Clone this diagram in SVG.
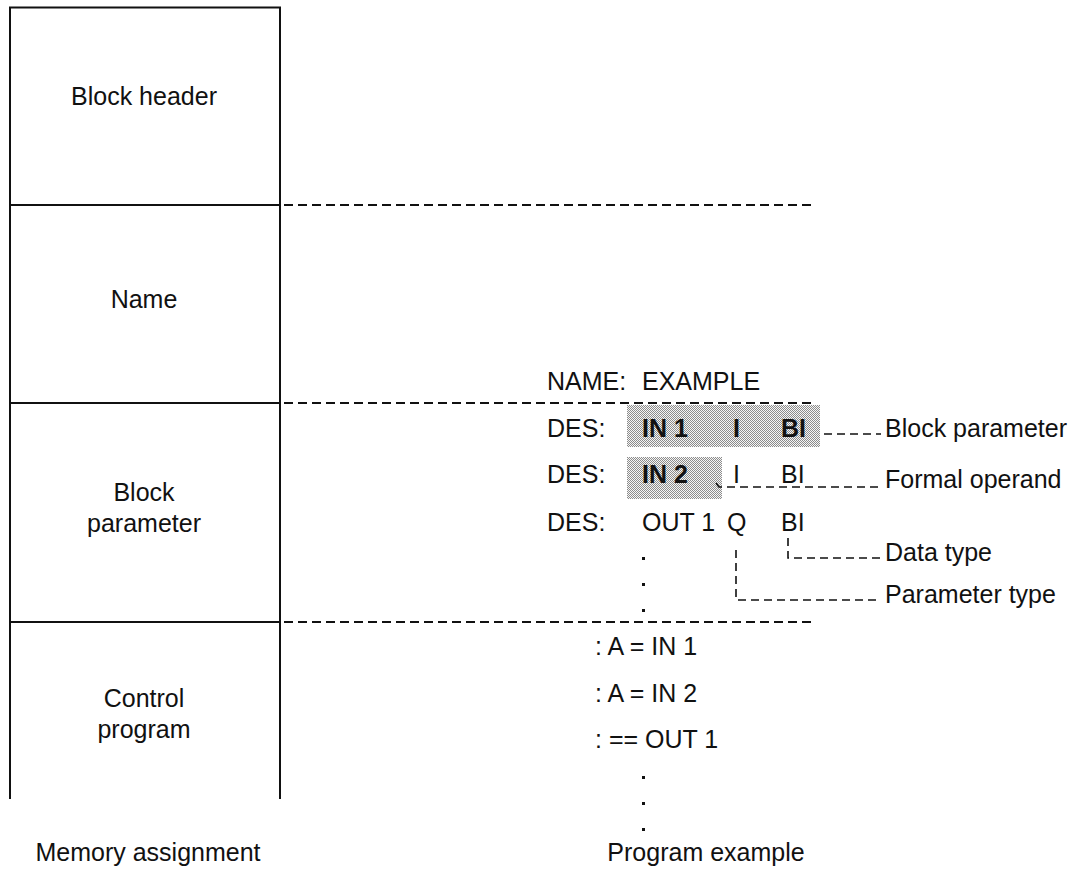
<svg xmlns="http://www.w3.org/2000/svg" width="1079" height="892" viewBox="0 0 1079 892">
<style>
text{font-family:"Liberation Sans",Arial,sans-serif;font-size:25px;fill:#111}
.c{text-anchor:middle}
.b{font-weight:bold}
.frame{fill:none;stroke:#111;stroke-width:2}
.sep{fill:none;stroke:#111;stroke-width:2;stroke-dasharray:9 5}
.con{fill:none;stroke:#111;stroke-width:1.6;stroke-dasharray:8 5}
.dot{fill:#111}
</style>
<defs>
<pattern id="hatch" width="2" height="2" patternUnits="userSpaceOnUse">
<rect width="2" height="2" fill="#f6f6f6"/>
<rect width="1" height="1" fill="#8c8c8c"/>
<rect x="1" y="1" width="1" height="1" fill="#8c8c8c"/>
</pattern>
</defs>
<g id="memory">
<path class="frame" d="M10,799 V7.5 H280 V799"/>
<line class="frame" x1="10" y1="205" x2="280" y2="205"/>
<line class="frame" x1="10" y1="403" x2="280" y2="403"/>
<line class="frame" x1="10" y1="622" x2="280" y2="622"/>
</g>
<g id="block-header"><text class="c" x="144" y="105">Block header</text></g>
<g id="name"><text class="c" x="144" y="308">Name</text></g>
<g id="block-parameter"><text class="c" x="144" y="501">Block</text><text class="c" x="144" y="532">parameter</text></g>
<g id="control-program"><text class="c" x="144" y="707">Control</text><text class="c" x="144" y="738">program</text></g>
<g id="separators">
<line class="sep" x1="284" y1="205" x2="812" y2="205"/>
<line class="sep" x1="284" y1="403" x2="812" y2="403"/>
<line class="sep" x1="284" y1="622" x2="812" y2="622"/>
</g>
<g id="highlights">
<rect x="627" y="405" width="193" height="42" fill="url(#hatch)"/>
<rect x="627" y="457" width="95" height="42" fill="url(#hatch)"/>
</g>
<g id="program-example">
<text x="547" y="390">NAME:<tspan x="642">EXAMPLE</tspan></text>
<text x="547" y="437">DES:</text>
<text class="b" x="642" y="437">IN 1</text>
<text class="b" x="733" y="437">I</text>
<text class="b" x="781" y="437">BI</text>
<text x="547" y="483">DES:</text>
<text class="b" x="642" y="483">IN 2</text>
<text x="733" y="483">I</text>
<text x="781" y="483">BI</text>
<text x="547" y="531">DES:</text>
<text x="642" y="531">OUT 1</text>
<text x="727" y="531">Q</text>
<text x="781" y="531">BI</text>
<rect class="dot" x="642" y="557" width="3" height="3"/>
<rect class="dot" x="642" y="583" width="3" height="3"/>
<rect class="dot" x="642" y="609" width="3" height="3"/>
<text x="595" y="655">: A = IN 1</text>
<text x="595" y="702">: A = IN 2</text>
<text x="595" y="748">: == OUT 1</text>
<rect class="dot" x="642" y="776" width="3" height="3"/>
<rect class="dot" x="642" y="802" width="3" height="3"/>
<rect class="dot" x="642" y="828" width="3" height="3"/>
</g>
<g id="connectors">
<line class="con" x1="824" y1="434" x2="881" y2="434"/>
<path class="con" d="M716,483 L719,487 H881"/>
<path class="con" d="M788,538 V558 H881"/>
<path class="con" d="M736,550 V600 H881"/>
</g>
<g id="labels">
<text x="885" y="437">Block parameter</text>
<text x="885" y="488">Formal operand</text>
<text x="885" y="561">Data type</text>
<text x="885" y="603">Parameter type</text>
</g>
<g id="captions">
<text class="c" x="148" y="861">Memory assignment</text>
<text class="c" x="706" y="861">Program example</text>
</g>
</svg>
